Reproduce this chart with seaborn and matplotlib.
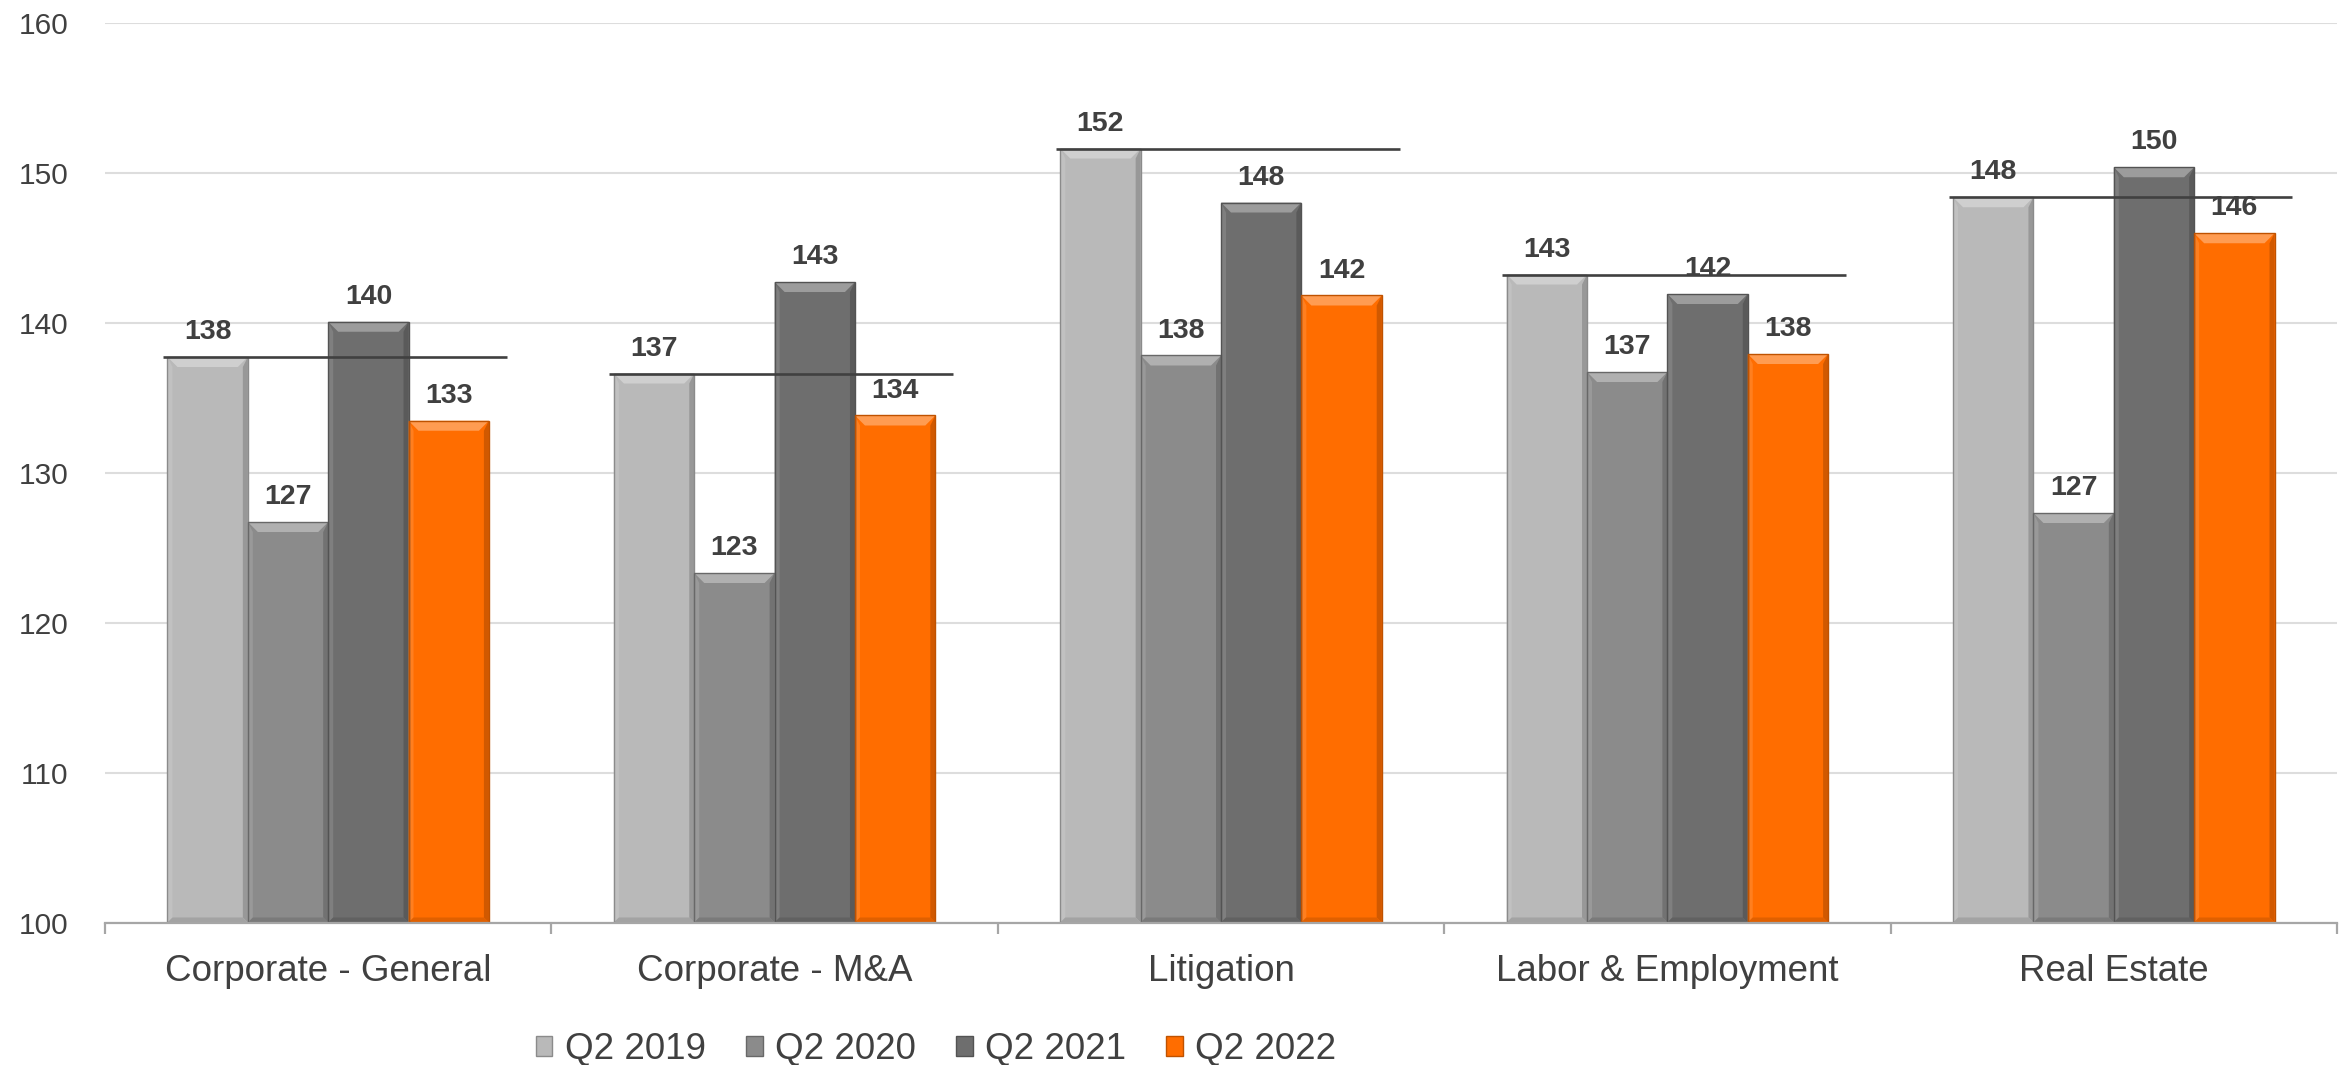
import numpy as np
import pandas as pd
import matplotlib
matplotlib.use("Agg")
import matplotlib.pyplot as plt
import seaborn as sns
from matplotlib.patches import Polygon, Patch
from matplotlib.colors import to_rgb

# Billing rate index by practice area
practice_areas = ["Corporate - General", "Corporate - M&A", "Litigation",
                  "Labor & Employment", "Real Estate"]
periods = ["Q2 2019", "Q2 2020", "Q2 2021", "Q2 2022"]
q2_2019 = [137.7, 136.6, 151.6, 143.2, 148.35]
q2_2020 = [126.7, 123.3, 137.8, 136.7, 127.3]
q2_2021 = [140.05, 142.7, 148.0, 141.9, 150.35]
q2_2022 = [133.45, 133.8, 141.8, 137.9, 145.95]
y_ticks = [100, 110, 120, 130, 140, 150, 160]

palette = ["#B9B9B9", "#8B8B8B", "#6E6E6E", "#FF6D00"]
text_color = "#404040"

wide = pd.DataFrame({"Practice area": practice_areas,
                     "Q2 2019": q2_2019, "Q2 2020": q2_2020,
                     "Q2 2021": q2_2021, "Q2 2022": q2_2022})
long = wide.melt(id_vars="Practice area", var_name="Period", value_name="Rate")

sns.set_theme(style="white")
plt.rcParams["font.family"] = ["Liberation Sans", "DejaVu Sans"]

W, H = 2351, 1065
fig = plt.figure(figsize=(W / 100, H / 100), dpi=100)
ax = fig.add_axes([105 / W, 1 - 922.5 / H, 2232 / W, 900 / H])

sns.barplot(data=long, x="Practice area", y="Rate", hue="Period",
            order=practice_areas, hue_order=periods, palette=palette,
            saturation=1, width=0.72, dodge=True, legend=False, ax=ax,
            edgecolor="none", linewidth=0, zorder=2)

ax.set_ylim(100, 160)
ax.set_xlim(-0.5, len(practice_areas) - 0.5)


def blend(c, other, t):
    a = np.array(to_rgb(c))
    b = np.array(to_rgb(other))
    return tuple(a + (b - a) * t)


# Bevelled bar faces
px_x = 2232 / len(practice_areas)   # pixels per category unit
px_y = 900 / 60                     # pixels per rate unit
bev = 10
bx, by = bev / px_x, bev / px_y
base = 100
for container, color in zip(ax.containers, palette):
    for p in container.patches:
        x0, w, top = p.get_x(), p.get_width(), p.get_height()
        x1 = x0 + w
        faces = [
            ([(x0, top), (x1, top), (x1 - bx, top - by), (x0 + bx, top - by)],
             blend(color, "white", 0.32)),
            ([(x0, top), (x0 + bx * 0.5, top - by), (x0 + bx * 0.5, base + by * 0.5), (x0, base)],
             blend(color, "white", 0.12)),
            ([(x1, top), (x1 - bx * 0.5, top - by), (x1 - bx * 0.5, base + by * 0.5), (x1, base)],
             blend(color, "black", 0.18)),
            ([(x0, base), (x1, base), (x1 - bx * 0.5, base + by * 0.5), (x0 + bx * 0.5, base + by * 0.5)],
             blend(color, "black", 0.12)),
        ]
        for pts, fc in faces:
            ax.add_patch(Polygon(pts, closed=True, facecolor=fc,
                                 edgecolor="none", zorder=2.5))
        ax.add_patch(plt.Rectangle((x0, base), w, top - base, fill=False,
                                   edgecolor=blend(color, "black", 0.25),
                                   linewidth=1.0, zorder=2.6))

# Value labels
for container in ax.containers:
    ax.bar_label(container, fmt="{:.0f}", padding=8.5, fontsize=20.5,
                 fontweight="bold", color=text_color, zorder=4)

# Q2 2019 reference line across each group
centers = np.arange(len(practice_areas))
ax.hlines(q2_2019, centers - 0.37, centers + 0.40, colors=text_color,
          linewidth=1.9, zorder=3)

# Axes styling
ax.set_yticks(y_ticks)
ax.yaxis.grid(True, color="#DDDDDD", linewidth=1.5)
ax.xaxis.grid(False)
ax.set_axisbelow(True)
for side in ("left", "right", "top"):
    ax.spines[side].set_visible(False)
ax.spines["bottom"].set_color("#A6A6A6")
ax.spines["bottom"].set_linewidth(1.6)
ax.spines["bottom"].set_zorder(3)

ax.set_xticks(np.arange(-0.5, len(practice_areas), 1.0), labels=[""] * (len(practice_areas) + 1))
ax.set_xticks(centers, labels=practice_areas, minor=True)
ax.tick_params(axis="x", which="major", length=8, width=1.6, color="#A6A6A6",
               direction="out", bottom=True)
ax.tick_params(axis="x", which="minor", length=0, pad=22.5, labelsize=26.5,
               labelcolor=text_color, bottom=True)
ax.tick_params(axis="y", length=0, pad=26.5, labelsize=21.5, labelcolor=text_color)
ax.set_xlabel("")
ax.set_ylabel("")

# Legend
handles = [Patch(facecolor=c, edgecolor=blend(c, "black", 0.25), linewidth=1.0)
           for c in palette]
fig.legend(handles, periods, loc="center", bbox_to_anchor=(936 / W, 1 - 1050 / H),
           ncol=4, frameon=False, fontsize=26.5, handlelength=0.45,
           handleheight=0.45, handletextpad=0.33, columnspacing=1.1,
           labelcolor=text_color, borderpad=0)

fig.savefig("out.png", dpi=100)
